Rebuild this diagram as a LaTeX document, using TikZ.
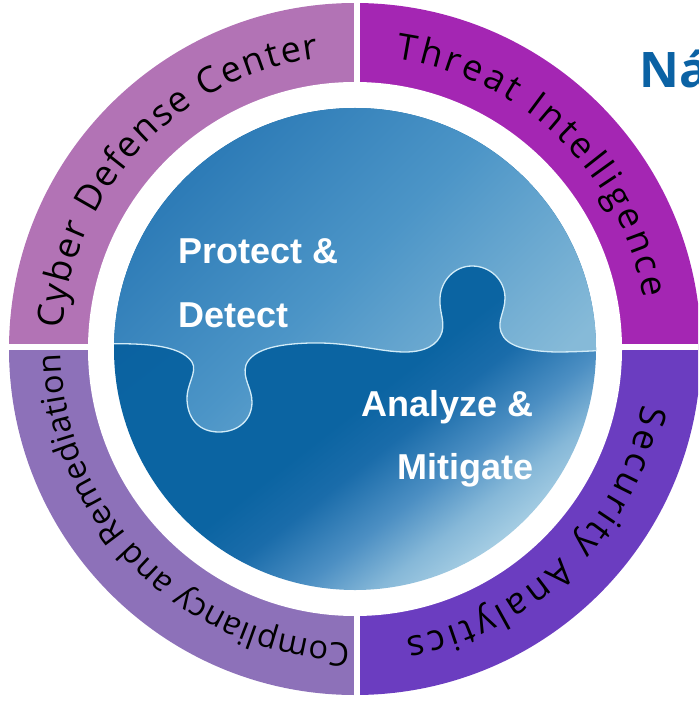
\documentclass[tikz,border=0pt]{standalone}
\usepackage{fontspec}
\usetikzlibrary{decorations.text}
\newfontfamily\ringfont{Open Sans}
\newfontfamily\puzfont{Liberation Sans}
\newfontfamily\titlefont{Open Sans}
\definecolor{qTL}{HTML}{B273B5}
\definecolor{qTR}{HTML}{A426B3}
\definecolor{qBR}{HTML}{6B3DC0}
\definecolor{qBL}{HTML}{8D71B9}
\definecolor{lowA}{HTML}{A5CDE3}
\definecolor{lowB}{HTML}{86B8D8}
\definecolor{lowC}{HTML}{4C8FC3}
\definecolor{lowD}{HTML}{1A6CAA}
\definecolor{lowE}{HTML}{0B64A2}
\definecolor{lowF}{HTML}{0A5E9D}
\definecolor{upA}{HTML}{86BAD8}
\definecolor{upB}{HTML}{4C95C7}
\definecolor{upC}{HTML}{2877B4}
\definecolor{seam}{HTML}{D2ECF8}
\definecolor{titleblue}{HTML}{0B62A4}
\pgfdeclareverticalshading{lowshade}{100bp}{color(0bp)=(lowA); color(25bp)=(lowA);
  color(29bp)=(lowB); color(34bp)=(lowC); color(40bp)=(lowD); color(45bp)=(lowE);
  color(60bp)=(lowE); color(75bp)=(lowF); color(100bp)=(lowF)}
\pgfdeclareverticalshading{upshade}{100bp}{color(0bp)=(upA); color(25bp)=(upA);
  color(50bp)=(upB); color(75bp)=(upC); color(100bp)=(upC)}
\begin{document}
\begin{tikzpicture}[x=1pt,y=-1pt,
  ringtext/.style 2 args={decorate, decoration={text along path, text align={fit to path},
     text={|\ringfont\fontsize{#1}{#1}\selectfont|#2}}},
  puz/.style={text=white, inner sep=0pt, font=\puzfont\bfseries\fontsize{36}{36}\selectfont}]
\useasboundingbox (0,0) rectangle (698,703);
\clip (0,0) rectangle (698,703);
\coordinate (c) at (355,349);
% ring quadrants
\fill[qTL] (c) -- ++(-180:346) arc[start angle=-180,end angle=-90,radius=346] -- cycle;
\fill[qTR] (c) -- ++(-90:346) arc[start angle=-90,end angle=0,radius=346] -- cycle;
\fill[qBR] (c) -- ++(0:346) arc[start angle=0,end angle=90,radius=346] -- cycle;
\fill[qBL] (c) -- ++(90:346) arc[start angle=90,end angle=180,radius=346] -- cycle;
\fill[white] (c) circle[radius=267];
% gaps
\fill[white] (354,0) rectangle (360,703);
\fill[white] (0,344) rectangle (698,350);
% ring texts
\path[ringtext={36}{Cyber Defense Center}] (c) ++(-176:293) arc[start angle=-176,end angle=-97,radius=293];
\path[ringtext={36}{Threat Intelligence}] (c) ++(-82:293) arc[start angle=-82,end angle=-10,radius=293];
\path[ringtext={36}{Security Analytics}] (c) ++(11:293) arc[start angle=11,end angle=80,radius=293];
\path[ringtext={32.5}{Compliancy and Remediation}] (c) ++(91:294) arc[start angle=91,end angle=179,radius=294];
% puzzle disc
\begin{scope}
\clip (c) circle[radius=241];
\shade[shading=lowshade, shading angle=38] (c) circle[radius=241];
\shade[shading=upshade, shading angle=45]
  (100,344) .. controls (140,343) and (180,344) .. (192,362)
  .. controls (198,372) and (186,385) .. (187,400)
  .. controls (188,420) and (200,432) .. (219,432)
  .. controls (238,432) and (252,420) .. (252,402)
  .. controls (252,388) and (242,378) .. (246,365)
  .. controls (252,350) and (275,344) .. (310,343)
  .. controls (350,342) and (380,352) .. (405,352)
  .. controls (425,352) and (438,345) .. (442,332)
  .. controls (445,320) and (439,312) .. (440,298)
  .. controls (441,280) and (455,266) .. (472,266)
  .. controls (490,266) and (505,280) .. (505,298)
  .. controls (505,312) and (497,320) .. (501,332)
  .. controls (506,346) and (525,351) .. (555,352)
  .. controls (575,352) and (590,351) .. (610,350)
  -- (610,100) -- (100,100) -- cycle;
\draw[seam, line width=1.3pt]
  (100,344) .. controls (140,343) and (180,344) .. (192,362)
  .. controls (198,372) and (186,385) .. (187,400)
  .. controls (188,420) and (200,432) .. (219,432)
  .. controls (238,432) and (252,420) .. (252,402)
  .. controls (252,388) and (242,378) .. (246,365)
  .. controls (252,350) and (275,344) .. (310,343)
  .. controls (350,342) and (380,352) .. (405,352)
  .. controls (425,352) and (438,345) .. (442,332)
  .. controls (445,320) and (439,312) .. (440,298)
  .. controls (441,280) and (455,266) .. (472,266)
  .. controls (490,266) and (505,280) .. (505,298)
  .. controls (505,312) and (497,320) .. (501,332)
  .. controls (506,346) and (525,351) .. (555,352)
  .. controls (575,352) and (590,351) .. (610,350);
\end{scope}
% puzzle texts
\node[puz, anchor=base west] (protect) at (178,263) {Protect \&};
\node[puz, anchor=base west] (detect) at (178,327) {Detect};
\node[puz, anchor=base east] (analyze) at (534,416) {Analyze \&};
\node[puz, anchor=base east] (mitigate) at (534,479) {Mitigate};
% title fragment
\node[anchor=base west, inner sep=0pt, text=titleblue, font=\titlefont\bfseries\fontsize{49}{49}\selectfont] (title) at (639,88) {Ná};
\end{tikzpicture}
\end{document}
